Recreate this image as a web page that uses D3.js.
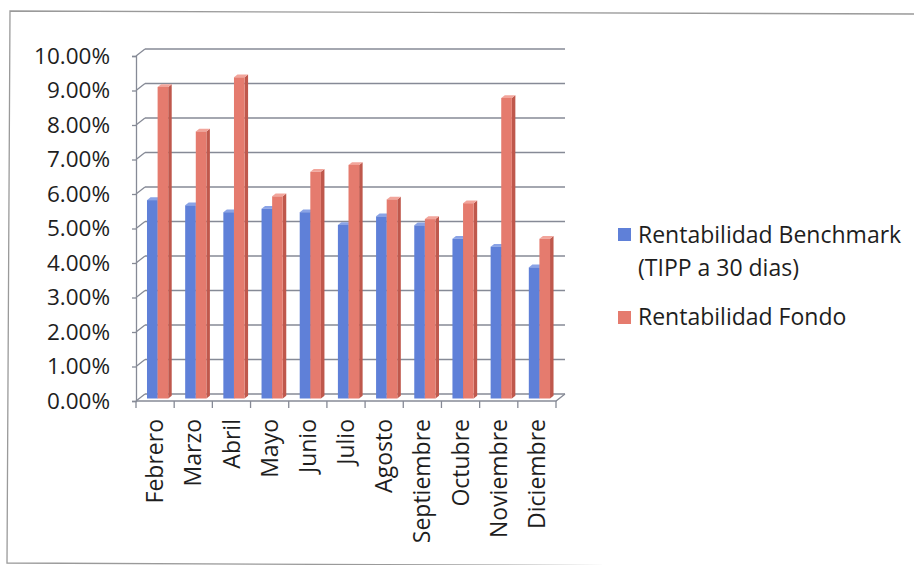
<!DOCTYPE html>
<html>
<head>
<meta charset="utf-8">
<script src="https://cdn.jsdelivr.net/npm/d3@7"></script>
<style>
  body { margin: 0; background: #fff; }
  text { font-family: "Open Sans", sans-serif; fill: #1e1e1e; }
</style>
</head>
<body>
<div id="chart"></div>
<script>
const width = 914, height = 565;

// data
const months = ["Febrero", "Marzo", "Abril", "Mayo", "Junio", "Julio", "Agosto",
                "Septiembre", "Octubre", "Noviembre", "Diciembre"];
const benchmark = [5.75, 5.6, 5.4, 5.5, 5.4, 5.03, 5.28, 5.02, 4.63, 4.4, 3.8];
const fondo = [9.03, 7.74, 9.31, 5.86, 6.57, 6.77, 5.77, 5.2, 5.66, 8.71, 4.63];
const seriesNames = ["Rentabilidad Benchmark", "Rentabilidad Fondo"];
const yTicks = [0, 1, 2, 3, 4, 5, 6, 7, 8, 9, 10];

const colors = {
  b: { front: "#5f80d8", top: "#8aa3e6", side: "#3e5db3" },
  f: { front: "#e57b6e", top: "#f2a59b", side: "#bf584c" }
};

const svg = d3.select("#chart")
    .append("svg")
    .attr("width", width)
    .attr("height", height);

// outer frame (scanned page border)
svg.append("path")
    .attr("d", "M914,14 L10,11 L7,563 L914,567")
    .attr("fill", "none")
    .attr("stroke", "#9a9a9a")
    .attr("stroke-width", 1.3);

// 3d depth of the plot
const dx = 9, dy = -7;

const y = d3.scaleLinear().domain([0, 10]).range([401, 56]);
const x0 = d3.scaleBand().domain(months).range([136, 556]);
const bw = x0.bandwidth();
const x1 = d3.scaleBand().domain(["b", "f"]).range([bw * 0.204, bw * 0.76]);

const gridColor = "#868a96";

// back wall gridlines + side wall lines
const grid = svg.append("g");
yTicks.forEach(t => {
  grid.append("line")
      .attr("x1", x0.range()[0] + dx).attr("x2", x0.range()[1] + dx)
      .attr("y1", y(t) + dy).attr("y2", y(t) + dy)
      .attr("stroke", gridColor).attr("stroke-width", 1.3);
  grid.append("line")
      .attr("x1", x0.range()[0]).attr("x2", x0.range()[0] + dx)
      .attr("y1", y(t)).attr("y2", y(t) + dy)
      .attr("stroke", gridColor).attr("stroke-width", 1.3);
});

// floor
svg.append("path")
    .attr("d", `M${x0.range()[0]},${y(0)} L${x0.range()[1]},${y(0)} L${x0.range()[1] + dx},${y(0) + dy}`)
    .attr("fill", "none")
    .attr("stroke", gridColor).attr("stroke-width", 1.3);

// front vertical axis
const yAxis = svg.append("g")
    .attr("transform", `translate(${x0.range()[0]},0)`)
    .call(d3.axisLeft(y).tickValues(yTicks).tickSize(4).tickPadding(22)
        .tickFormat(d => d3.format(".2f")(d) + "%"));
yAxis.select(".domain").attr("stroke", gridColor).attr("stroke-width", 1.3);
yAxis.selectAll(".tick line").attr("stroke", gridColor).attr("stroke-width", 1.3);
yAxis.selectAll("text")
    .style("font-size", "22.5px")
    .attr("fill", "#1e1e1e");

// bottom ticks at category borders
const xTickVals = months.map(m => x0(m)).concat([x0.range()[1]]);
svg.append("g").selectAll("line")
    .data(xTickVals)
    .join("line")
    .attr("x1", d => d).attr("x2", d => d)
    .attr("y1", y(0)).attr("y2", y(0) + 7)
    .attr("stroke", gridColor).attr("stroke-width", 1.3);

// bars
const bdx = 3.2, bdy = -2.5;   // position inside depth
const ddx = 3.5, ddy = -2.8;   // bar thickness
const bars = [];
months.forEach((m, i) => {
  bars.push({ m, key: "b", v: benchmark[i] });
  bars.push({ m, key: "f", v: fondo[i] });
});

const barG = svg.append("g").selectAll("g")
    .data(bars)
    .join("g");

barG.each(function(d) {
  const g = d3.select(this);
  const xl = x0(d.m) + x1(d.key) + bdx;
  const xr = xl + x1.bandwidth();
  const yb = y(0) + bdy;
  const yt = y(d.v) + bdy;
  const c = colors[d.key];
  // side face
  g.append("path")
      .attr("d", `M${xr},${yb} L${xr + ddx},${yb + ddy} L${xr + ddx},${yt + ddy} L${xr},${yt} Z`)
      .attr("fill", c.side);
  // top face
  g.append("path")
      .attr("d", `M${xl},${yt} L${xl + ddx},${yt + ddy} L${xr + ddx},${yt + ddy} L${xr},${yt} Z`)
      .attr("fill", c.top);
  // front face
  g.append("rect")
      .attr("x", xl).attr("y", yt)
      .attr("width", x1.bandwidth()).attr("height", yb - yt)
      .attr("fill", c.front);
});

// month labels
svg.append("g").selectAll("text")
    .data(months)
    .join("text")
    .attr("transform", d => `translate(${x0(d) + bw / 2},${y(0) + 18}) rotate(-90)`)
    .attr("text-anchor", "end")
    .attr("dy", "0.35em")
    .style("font-size", "23px")
    .text(d => d);

// legend
const legend = svg.append("g");
legend.append("rect")
    .attr("x", 618).attr("y", 228).attr("width", 13).attr("height", 13)
    .attr("fill", colors.b.front);
legend.append("text")
    .attr("x", 638).attr("y", 243)
    .style("font-size", "23px")
    .text(seriesNames[0]);
legend.append("text")
    .attr("x", 638).attr("y", 276)
    .style("font-size", "23px")
    .text("(TIPP a 30 dias)");
legend.append("rect")
    .attr("x", 618).attr("y", 311).attr("width", 13).attr("height", 13)
    .attr("fill", colors.f.front);
legend.append("text")
    .attr("x", 638).attr("y", 325)
    .style("font-size", "23px")
    .text(seriesNames[1]);
</script>
</body>
</html>
